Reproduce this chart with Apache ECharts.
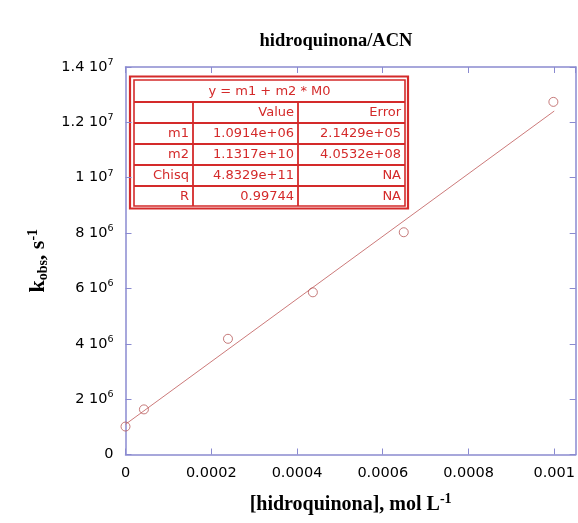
<!DOCTYPE html>
<html>
<head>
<meta charset="utf-8">
<script src="https://cdn.jsdelivr.net/npm/echarts@6/dist/echarts.min.js"></script>
<style>html,body{margin:0;padding:0;background:#fff}#c{width:578px;height:523px}</style>
</head>
<body>
<div id="c"></div>
<script>
// ---- data ----
const concX = [0, 0.000043, 0.000239, 0.000437, 0.000649, 0.000998];
const kObs  = [1.01e6, 1.63e6, 4.18e6, 5.86e6, 8.03e6, 1.274e7];
const fitLineX = [0, 0.001];
const fitLineY = [1.0914e6, 1.2409e7];
const xTickLabels = ['0', '0.0002', '0.0004', '0.0006', '0.0008', '0.001'];
const yTickMantissa = ['0', '2', '4', '6', '8', '1', '1.2', '1.4'];
const yTickExponent = ['', '6', '6', '6', '6', '7', '7', '7'];
const titleText = 'hidroquinona/ACN';
const tableHeader = 'y = m1 + m2 * M0';
const tableColNames = ['', 'Value', 'Error'];
const tableRowNames = ['m1', 'm2', 'Chisq', 'R'];
const tableValues = ['1.0914e+06', '1.1317e+10', '4.8329e+11', '0.99744'];
const tableErrors = ['2.1429e+05', '4.0532e+08', 'NA', 'NA'];

// ---- styling ----
const axisColor = '#8a8ad0';
const red = '#d42a2a';
const sans = 'DejaVu Sans';
const serif = 'Liberation Serif';

const chart = echarts.init(document.getElementById('c'));

// table graphics
const tL = 134, tR = 405, colX = [134, 193, 298, 405];
const rowY = [80, 102, 123, 144, 165, 186, 206];
const tg = [];
tg.push({type:'rect', shape:{x:130, y:76.5, width:278, height:132}, style:{fill:'#fff', stroke:red, lineWidth:2.2}});
tg.push({type:'rect', shape:{x:tL, y:rowY[0], width:tR-tL, height:rowY[6]-rowY[0]}, style:{fill:'none', stroke:red, lineWidth:1.6}});
for (let i = 1; i < rowY.length - 1; i++) {
  tg.push({type:'line', shape:{x1:tL, y1:rowY[i], x2:tR, y2:rowY[i]}, style:{stroke:red, lineWidth:1.8}});
}
for (let j = 1; j < colX.length - 1; j++) {
  tg.push({type:'line', shape:{x1:colX[j], y1:rowY[1], x2:colX[j], y2:rowY[6]}, style:{stroke:red, lineWidth:1.8}});
}
const txt = (s, x, y, align) => ({type:'text', x:x, y:y, style:{text:s, fill:red, font:'13px "' + sans + '"', textAlign:align, textVerticalAlign:'middle'}});
tg.push(txt(tableHeader, (tL + tR) / 2, (rowY[0] + rowY[1]) / 2 + 0.5, 'center'));
for (let j = 1; j < 3; j++) tg.push(txt(tableColNames[j], colX[j+1] - 4, (rowY[1] + rowY[2]) / 2 + 0.5, 'right'));
for (let i = 0; i < tableRowNames.length; i++) {
  const cy = (rowY[i+2] + rowY[i+3]) / 2 + 0.5;
  tg.push(txt(tableRowNames[i], colX[1] - 4, cy, 'right'));
  tg.push(txt(tableValues[i], colX[2] - 4, cy, 'right'));
  tg.push(txt(tableErrors[i], colX[3] - 4, cy, 'right'));
}

const hiddenAxisCommon = {
  axisLine:{show:true, onZero:false, lineStyle:{color:axisColor, width:1.5}},
  axisTick:{show:true, inside:true, length:6, lineStyle:{color:axisColor, width:1}},
  axisLabel:{show:false}, splitLine:{show:false}
};

chart.setOption({
  animation:false,
  backgroundColor:'#fff',
  title:{text:titleText, left:331, top:27, textAlign:'center',
    textStyle:{fontFamily:serif, fontWeight:'bold', fontSize:18.5, color:'#000'}},
  grid:{left:125.5, right:1, top:67, bottom:68.5},
  xAxis:[{
    type:'value', min:0, max:0.00105, interval:0.0002, position:'bottom',
    axisLine:{show:true, onZero:false, lineStyle:{color:axisColor, width:1.5}},
    axisTick:{show:true, inside:true, length:6, lineStyle:{color:axisColor, width:1}},
    splitLine:{show:false},
    axisLabel:{show:true, showMaxLabel:false, margin:11, color:'#000', fontFamily:sans, fontSize:14.5,
      formatter:v => { const i = Math.round(v / 0.0002); return Math.abs(v - i*0.0002) < 1e-9 ? (xTickLabels[i] || '') : ''; }},
    name:'[hidroquinona], mol L{sup|-1}', nameLocation:'middle', nameGap:38,
    nameTextStyle:{fontFamily:serif, fontWeight:'bold', fontSize:20, color:'#000',
      rich:{sup:{fontFamily:serif, fontWeight:'bold', fontSize:14, verticalAlign:'top', padding:[0,0,10,0]}}}
  },{
    type:'value', min:0, max:0.00105, interval:0.0002, position:'top', ...hiddenAxisCommon
  }],
  yAxis:[{
    type:'value', min:0, max:1.4e7, interval:2e6, position:'left',
    axisLine:{show:true, onZero:false, lineStyle:{color:axisColor, width:1.5}},
    axisTick:{show:true, inside:true, length:6, lineStyle:{color:axisColor, width:1}},
    splitLine:{show:false},
    axisLabel:{show:true, margin:12, color:'#000', fontFamily:sans, fontSize:14.5,
      formatter:v => { const i = Math.round(v / 2e6); return yTickExponent[i] ? '{m|' + yTickMantissa[i] + ' 10}{e|' + yTickExponent[i] + '}' : '{m|' + yTickMantissa[i] + '}'; },
      rich:{m:{fontFamily:sans, fontSize:14.5, color:'#000'}, e:{fontFamily:sans, fontSize:9.5, color:'#000', verticalAlign:'top', padding:[0,0,9,0]}}},
    name:'{k|k}{sub|obs}{k|, s}{sup|-1}', nameLocation:'middle', nameGap:74, nameRotate:90,
    nameTextStyle:{rich:{
      k:{fontFamily:serif, fontWeight:'bold', fontSize:22, color:'#000'},
      sub:{fontFamily:serif, fontWeight:'bold', fontSize:14, color:'#000', verticalAlign:'bottom', padding:[8,0,0,0]},
      sup:{fontFamily:serif, fontWeight:'bold', fontSize:14, color:'#000', verticalAlign:'top', padding:[0,0,10,0]}
    }}
  },{
    type:'value', min:0, max:1.4e7, interval:2e6, position:'right', ...hiddenAxisCommon
  }],
  series:[{
    type:'line', xAxisIndex:0, yAxisIndex:0,
    data:fitLineX.map((x, i) => [x, fitLineY[i]]),
    showSymbol:false, lineStyle:{color:'#cc7a7a', width:1}, z:2
  },{
    type:'scatter', xAxisIndex:0, yAxisIndex:0,
    data:concX.map((x, i) => [x, kObs[i]]),
    symbol:'circle', symbolSize:9,
    itemStyle:{color:'rgba(255,255,255,0)', borderColor:'#b85a5a', borderWidth:1}, z:3
  }],
  graphic:tg
});
</script>
</body>
</html>
